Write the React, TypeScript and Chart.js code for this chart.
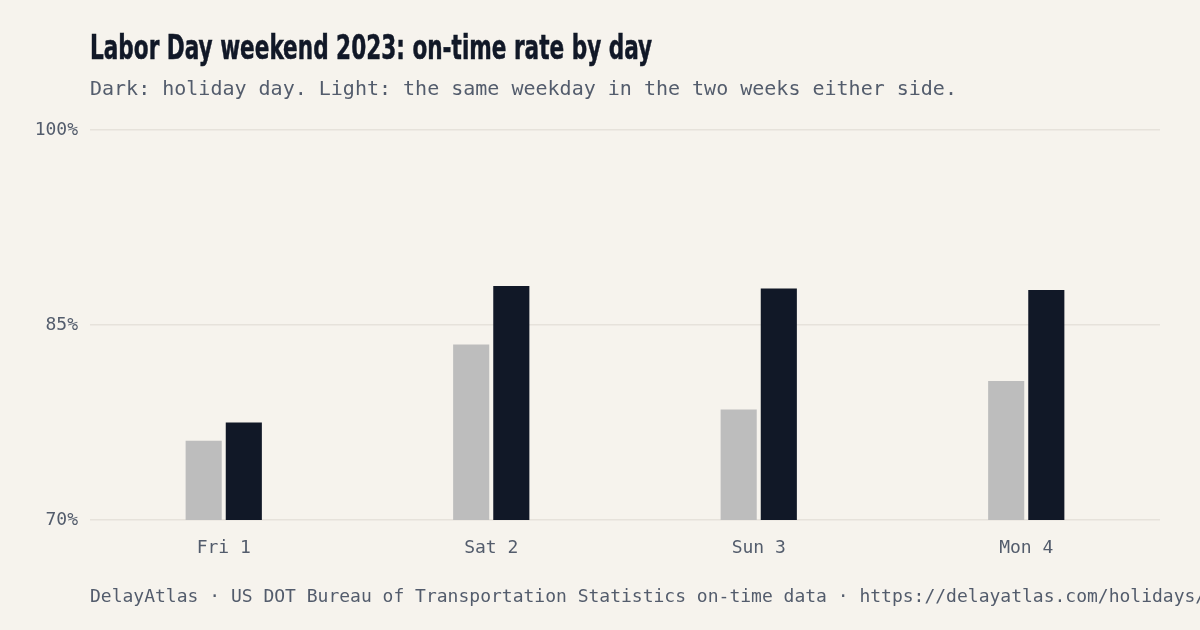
import React, { useEffect, useLayoutEffect, useRef, useState } from "react";
import Chart from "chart.js/auto";

const DAYS = ["Fri 1", "Sat 2", "Sun 3", "Mon 4"];
// same weekday, two weeks either side (light)
const NEARBY_RATE = [76.1, 83.5, 78.5, 80.7];
// the holiday day itself (dark)
const HOLIDAY_RATE = [77.5, 88.0, 87.8, 87.7];
const Y_MIN = 70;
const Y_MAX = 100;
const Y_STEP = 15;

const BG = "#f6f3ed";
const INK = "#111827";
const MUTED = "#535c6c";
const LIGHT_BAR = "#bdbdbd";
const GRID = "#e6e2db";
const MONO = '"DejaVu Sans Mono", "Liberation Mono", monospace';

const TITLE_WIDTH = 562;

const OnTimeChart: React.FC = () => {
  const canvasRef = useRef<HTMLCanvasElement | null>(null);

  useEffect(() => {
    const canvas = canvasRef.current;
    if (!canvas) return;

    const chart = new Chart(canvas, {
      type: "bar",
      data: {
        labels: DAYS,
        datasets: [
          {
            label: "Nearby weeks",
            data: NEARBY_RATE,
            backgroundColor: LIGHT_BAR,
            borderWidth: 0,
            categoryPercentage: 0.3,
            barPercentage: 0.9,
          },
          {
            label: "Holiday",
            data: HOLIDAY_RATE,
            backgroundColor: INK,
            borderWidth: 0,
            categoryPercentage: 0.3,
            barPercentage: 0.9,
          },
        ],
      },
      options: {
        responsive: true,
        maintainAspectRatio: false,
        animation: false,
        layout: {
          padding: { top: 130, right: 40, bottom: 70, left: 30 },
        },
        plugins: {
          legend: { display: false },
          tooltip: { enabled: false },
        },
        scales: {
          x: {
            grid: { display: false },
            border: { display: false },
            ticks: {
              color: MUTED,
              padding: 10,
              font: { family: MONO, size: 18 },
            },
            afterFit: (scale: any) => {
              scale.height = 40;
            },
          },
          y: {
            min: Y_MIN,
            max: Y_MAX,
            grid: { color: GRID, lineWidth: 1.5, drawTicks: false },
            border: { display: false },
            ticks: {
              stepSize: Y_STEP,
              color: MUTED,
              padding: 12,
              font: { family: MONO, size: 18 },
              callback: (v: any) => `${v}%`,
            },
            afterFit: (scale: any) => {
              scale.width = 60;
            },
          },
        },
      } as any,
    });

    return () => {
      chart.destroy();
    };
  }, []);

  return <canvas ref={canvasRef} />;
};

export default function App() {
  const titleRef = useRef<HTMLSpanElement | null>(null);
  const [titleScale, setTitleScale] = useState(1);

  useLayoutEffect(() => {
    const el = titleRef.current;
    if (!el) return;
    const w = el.offsetWidth;
    if (w > 0) setTitleScale(TITLE_WIDTH / w);
  }, []);

  return (
    <div
      style={{
        position: "fixed",
        top: 0,
        left: 0,
        width: 1200,
        height: 630,
        background: BG,
        overflow: "hidden",
      }}
    >
      <div style={{ position: "absolute", left: 0, top: 0, width: 1200, height: 630 }}>
        <OnTimeChart />
      </div>
      <span
        ref={titleRef}
        style={{
          position: "absolute",
          left: 90,
          top: 30,
          display: "inline-block",
          whiteSpace: "nowrap",
          fontFamily: '"DejaVu Sans Condensed", "DejaVu Sans", sans-serif',
          fontStretch: "condensed",
          fontWeight: 700,
          fontSize: 34,
          lineHeight: 1,
          color: INK,
          WebkitTextStroke: `0.5px ${INK}`,
          transform: `scaleX(${titleScale})`,
          transformOrigin: "0 0",
        }}
      >
        Labor Day weekend 2023: on-time rate by day
      </span>
      <div
        style={{
          position: "absolute",
          left: 90,
          top: 77.5,
          whiteSpace: "nowrap",
          fontFamily: MONO,
          fontSize: 20,
          lineHeight: 1,
          color: MUTED,
        }}
      >
        Dark: holiday day. Light: the same weekday in the two weeks either side.
      </div>
      <div
        style={{
          position: "absolute",
          left: 90,
          top: 587,
          whiteSpace: "nowrap",
          fontFamily: MONO,
          fontSize: 18,
          lineHeight: 1,
          color: MUTED,
        }}
      >
        DelayAtlas · US DOT Bureau of Transportation Statistics on-time data · https://delayatlas.com/holidays/
      </div>
    </div>
  );
}
